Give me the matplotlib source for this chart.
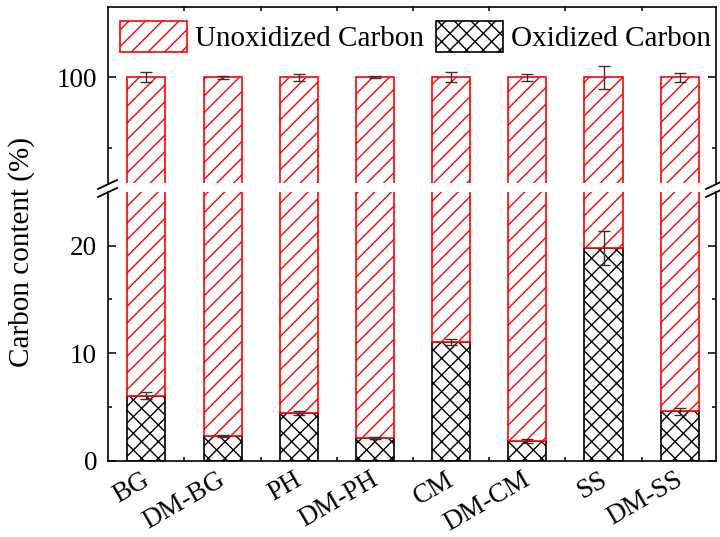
import matplotlib
matplotlib.use("Agg")
import matplotlib.pyplot as plt
from matplotlib.patches import Patch
from matplotlib.transforms import ScaledTranslation
import numpy as np

plt.rcParams["font.family"] = ["Liberation Serif", "DejaVu Serif"]
plt.rcParams["hatch.linewidth"] = 1.0

samples = ["BG", "DM-BG", "PH", "DM-PH", "CM", "DM-CM", "SS", "DM-SS"]
oxidized = [6.05, 2.25, 4.4, 2.12, 11.05, 1.82, 19.8, 4.58]
oxidized_err = [0.3, 0.1, 0.2, 0.1, 0.3, 0.15, 1.6, 0.3]
total = [100, 100, 100, 100, 100, 100, 100, 100]
total_err = [0.7, 0.2, 0.5, 0.15, 0.7, 0.5, 1.6, 0.6]

unoxidized = [t - o for t, o in zip(total, oxidized)]
x = np.arange(1, len(samples) + 1)

W, H = 720, 537
fig = plt.figure(figsize=(W / 100, H / 100), dpi=100)
left, width = 107.5 / W, 608 / W
ax_top = fig.add_axes([left, 1 - 183 / H, width, 176 / H])
ax_bot = fig.add_axes([left, 1 - 460.5 / H, width, 268.5 / H])

FS_YTICK = 19.5
FS_XTICK = 19.5
FS_TEXT = 21
for ax in (ax_top, ax_bot):
    ax.bar(x, oxidized, width=0.5, color="white", edgecolor="black",
           hatch="xx", linewidth=1.2, zorder=2)
    ax.bar(x, unoxidized, width=0.5, bottom=oxidized, color="white",
           edgecolor="red", hatch="//", linewidth=1.2, zorder=2)
    ax.errorbar(x, oxidized, yerr=oxidized_err, fmt="none", ecolor="#333333",
                elinewidth=1.0, capsize=4, capthick=1.0, zorder=3)
    ax.errorbar(x, total, yerr=total_err, fmt="none", ecolor="#333333",
                elinewidth=1.0, capsize=4, capthick=1.0, zorder=3)
    ax.set_xlim(0.49, 8.47)
    for s in ax.spines.values():
        s.set_linewidth(1.2)
    ax.tick_params(which="both", direction="in", width=1.1,
                   right=True, top=True)
    ax.tick_params(axis="y", labelsize=FS_YTICK, pad=7.5)
    ax.tick_params(which="major", length=5.5)
    ax.tick_params(which="minor", length=3)
    ax.set_xticks(x)
    ax.set_xticks(x[:-1] + 0.5, minor=True)
    ax.tick_params(axis="x", which="major", length=0)

ax_top.set_ylim(85, 110)
ax_top.set_yticks([100])
ax_top.set_yticks([90], minor=True)
ax_top.spines["bottom"].set_visible(False)
ax_top.tick_params(axis="x", which="both", bottom=False, labelbottom=False)

ax_bot.set_ylim(0, 25)
ax_bot.set_yticks([0, 10, 20])
ax_bot.set_yticks([5, 15], minor=True)
ax_bot.spines["top"].set_visible(False)
ax_bot.tick_params(axis="x", which="both", top=False, pad=5,
                   labelsize=FS_XTICK)
ax_bot.set_xticklabels(samples, rotation=30, ha="right", va="top",
                       rotation_mode="anchor")
shift = ScaledTranslation(-5 / 100, 0, fig.dpi_scale_trans)
for lab in ax_bot.get_xticklabels():
    lab.set_transform(lab.get_transform() + shift)

# break marks (figure pixel positions)
for xs in (107.5, 715.5):
    for yb in (189, 197):
        fig.add_artist(plt.Line2D([(xs - 9.5) / W, (xs + 9.5) / W],
                                  [1 - yb / H, 1 - (yb - 9) / H],
                                  color="black", lw=1.3))

fig.text(22 / W, 1 - 252 / H, "Carbon content (%)", rotation=90,
         ha="center", va="center", fontsize=FS_TEXT)

handles = [
    Patch(facecolor="white", edgecolor="red", hatch="//", linewidth=1.2,
          label="Unoxidized Carbon"),
    Patch(facecolor="white", edgecolor="black", hatch="xx", linewidth=1.2,
          label="Oxidized Carbon"),
]
ax_top.legend(handles=handles, loc="upper left", ncol=2, frameon=False,
              fontsize=FS_TEXT, handlelength=2.3, handleheight=1.25,
              handletextpad=0.28, columnspacing=0.4, borderpad=0,
              borderaxespad=0, bbox_to_anchor=(12.5 / 608, 1 - 14 / 176))

fig.savefig("out.png", dpi=100)
